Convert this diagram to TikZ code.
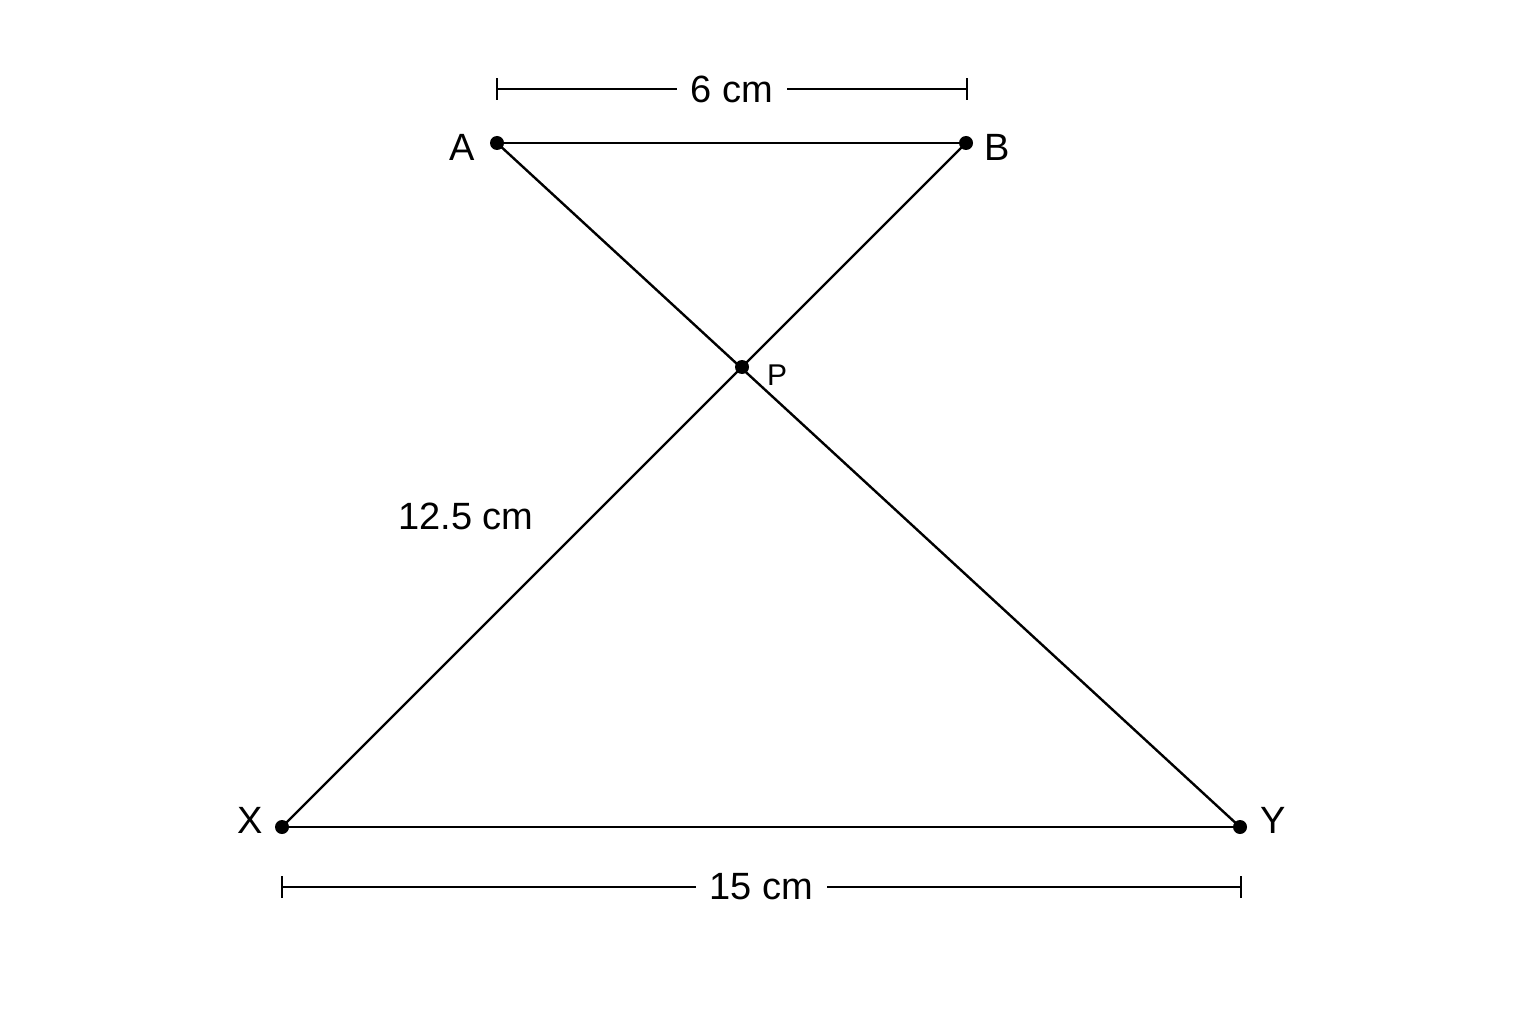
\documentclass[tikz,border=0pt]{standalone}
\usepackage{fontspec}
\setmainfont{Liberation Sans}
\begin{document}
\begin{tikzpicture}[x=1pt,y=-1pt,line width=2.4pt,
  dot/.style={circle,fill=black,inner sep=0pt,minimum size=14pt},
  lbl/.style={font=\fontsize{38}{44}\selectfont,inner sep=0pt},
  small/.style={font=\fontsize{30}{36}\selectfont,inner sep=0pt},
  dim/.style={line width=2pt},
  gap/.style={fill=white,font=\fontsize{38}{44}\selectfont,inner xsep=14pt,inner ysep=4pt}]
\useasboundingbox (0,0) rectangle (1536,1024);
\fill[white] (0,0) rectangle (1536,1024);
% points
\node[dot] (A) at (497,143) {};
\node[dot] (B) at (966,143) {};
\node[dot] (P) at (742,367) {};
\node[dot] (X) at (282,827) {};
\node[dot] (Y) at (1240,827) {};
% segments
\draw (A.center) -- (B.center);
\draw (A.center) -- (Y.center);
\draw (B.center) -- (X.center);
\draw (X.center) -- (Y.center);
% labels
\node[lbl] (la) at (462,147) {A};
\node[lbl] (lb) at (997,147) {B};
\node[small] (lp) at (777,375) {P};
\node[lbl] (lx) at (250,820) {X};
\node[lbl] (ly) at (1273,820) {Y};
\node[lbl] (l125) at (466,516) {12.5 cm};
% dimension lines
\coordinate (t1) at (497,89);
\coordinate (t2) at (967,89);
\draw[dim] (t1) -- node[gap] {6 cm} (t2);
\draw[dim] ([yshift=-11pt]t1) -- ([yshift=11pt]t1);
\draw[dim] ([yshift=-11pt]t2) -- ([yshift=11pt]t2);
\coordinate (b1) at (282,887);
\coordinate (b2) at (1241,887);
\draw[dim] (b1) -- node[gap] {15 cm} (b2);
\draw[dim] ([yshift=-11pt]b1) -- ([yshift=11pt]b1);
\draw[dim] ([yshift=-11pt]b2) -- ([yshift=11pt]b2);
\end{tikzpicture}
\end{document}
